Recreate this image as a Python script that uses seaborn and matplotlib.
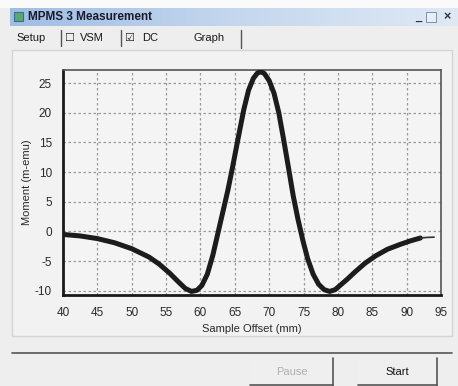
import numpy as np
import pandas as pd
import matplotlib
matplotlib.use("Agg")
import matplotlib.pyplot as plt
from matplotlib.patches import Rectangle
from matplotlib.colors import LinearSegmentedColormap
import seaborn as sns

# ---- data ----
offset_mm = [40.0, 42.5, 45.0, 47.5, 50.0, 52.5, 54.0, 55.5, 56.8, 57.8, 58.7,
             59.5, 60.2, 61.0, 61.8, 62.5, 63.2, 64.0, 64.7, 65.5, 66.3, 67.0,
             67.7, 68.3, 68.8, 69.3, 70.0, 70.7, 71.4, 72.1, 72.8, 73.5, 74.2,
             74.9, 75.6, 76.4, 77.2, 78.0, 78.8, 79.6, 80.4, 81.4, 82.6, 84.0,
             85.5, 87.2, 89.0, 90.5, 92.0]
moment_memu = [-0.5, -0.75, -1.2, -1.9, -2.9, -4.3, -5.5, -7.0, -8.5, -9.6, -10.1,
               -9.9, -9.1, -7.2, -4.0, -0.5, 3.0, 7.0, 11.0, 15.8, 20.5, 23.8,
               25.8, 26.7, 26.9, 26.6, 25.4, 23.3, 20.0, 15.5, 10.8, 6.0, 2.0,
               -1.5, -4.6, -7.2, -8.9, -9.8, -10.1, -9.8, -9.0, -8.0, -6.7, -5.3,
               -4.1, -3.0, -2.2, -1.6, -1.1]
tail_mm = [92.0, 93.0, 94.0]
tail_memu = [-1.1, -1.0, -0.95]

x_ticks = [40, 45, 50, 55, 60, 65, 70, 75, 80, 85, 90, 95]
y_ticks = [-10, -5, 0, 5, 10, 15, 20, 25]

window_title = "MPMS 3 Measurement"
x_label = "Sample Offset (mm)"
y_label = "Moment (m-emu)"

df = pd.DataFrame({"offset": offset_mm, "moment": moment_memu})
df_tail = pd.DataFrame({"offset": tail_mm, "moment": tail_memu})

sns.set_theme(style="white")
plt.rcParams["font.family"] = ["Liberation Sans", "DejaVu Sans"]

W, H = 458, 386
fig = plt.figure(figsize=(W / 100, H / 100), dpi=100)
fig.patch.set_facecolor("#eeeeee")

def px_rect(x0, y0, x1, y1, zorder=-5, **kw):
    r = Rectangle((x0 / W, 1 - y1 / H), (x1 - x0) / W, (y1 - y0) / H,
                  transform=fig.transFigure, zorder=zorder, **kw)
    fig.add_artist(r)
    return r

def px_text(x, y, s, **kw):
    return fig.text(x / W, 1 - y / H, s, **kw)

def px_line(x0, y0, x1, y1, **kw):
    fig.add_artist(plt.Line2D([x0 / W, x1 / W], [1 - y0 / H, 1 - y1 / H],
                              transform=fig.transFigure, **kw))

# top white strip
px_rect(0, 0, W, 8, facecolor="#fafafa", edgecolor="none")
# title bar gradient
grad = np.linspace(0, 1, 256).reshape(1, -1)
axg = fig.add_axes([10 / W, 1 - 26 / H, (W - 10) / W, 18 / H], zorder=-3)
cmap = LinearSegmentedColormap.from_list("tb", ["#9fbde3", "#c4d7ee", "#dfe9f5"])
axg.imshow(grad, aspect="auto", cmap=cmap, extent=[0, 1, 0, 1])
axg.set_axis_off()
px_rect(14, 12, 23, 21, zorder=5, facecolor="#5aa87a", edgecolor="#3c6e8c", linewidth=0.8)
px_text(28, 17.5, window_title, fontsize=8.5, fontweight="bold", color="#1a1a2a",
        va="center", ha="left")
# window buttons
px_text(418, 18, "_", fontsize=8, fontweight="bold", color="#222222", ha="center", va="center")
px_rect(426, 12, 436, 22, zorder=5, facecolor="#e6eef8", edgecolor="#8090a8", linewidth=0.7)
px_text(447, 17.5, "×", fontsize=9, fontweight="bold", color="#333333", ha="center", va="center")

# tab row
tab_kw = dict(fontsize=8, color="#1a1a1a", va="center", ha="left")
px_text(16, 38, "Setup", **tab_kw)
px_line(61, 30, 61, 46, color="#555555", linewidth=1)
px_text(64, 38, "☐", fontsize=8, color="#222222", va="center", ha="left",
        family=["DejaVu Sans"])
px_text(80, 38, "VSM", **tab_kw)
px_line(121, 30, 121, 46, color="#555555", linewidth=1)
px_text(124, 38, "☑", fontsize=8, color="#222222", va="center", ha="left",
        family=["DejaVu Sans"])
px_text(142, 38, "DC", **tab_kw)
px_text(193, 38, "Graph", **tab_kw)
px_line(241, 30, 241, 48, color="#555555", linewidth=1)

# graph panel (behind the axes)
px_rect(12, 50, 452, 336, zorder=-5, facecolor="#f2f2f2", edgecolor="#d4d4d4", linewidth=1)
px_line(12, 353, 452, 353, color="#555555", linewidth=1.2)

# buttons
for (x0, x1, label, col) in [(250, 333, "Pause", "#b0b0b0"), (358, 437, "Start", "#111111")]:
    px_rect(x0, 358, x1, 386, zorder=-5, facecolor="#efefef", edgecolor="none")
    px_line(x1, 358, x1, 386, color="#555555", linewidth=1.2)
    px_line(x0, 385, x1, 385, color="#555555", linewidth=1.2)
    px_text((x0 + x1) / 2, 372, label, fontsize=8, color=col, ha="center", va="center")

# ---- the plot ----
ax = fig.add_axes([63 / W, 1 - 295 / H, (441 - 63) / W, (295 - 70) / H], zorder=2)
ax.set_facecolor("#f4f4f4")
sns.lineplot(data=df, x="offset", y="moment", ax=ax, color="#1c1c1c",
             linewidth=3.6, sort=False, zorder=3)
sns.lineplot(data=df_tail, x="offset", y="moment", ax=ax, color="#333333",
             linewidth=1.2, sort=False, zorder=3)
ax.set_xlim(40, 95)
ax.set_ylim(-10.7, 27.2)
ax.set_xticks(x_ticks)
ax.set_yticks(y_ticks)
ax.set_xticklabels([str(t) for t in x_ticks])
ax.set_yticklabels([str(t) for t in y_ticks])
ax.grid(True, color="#9a9a9a", linestyle=(0, (2, 2)), linewidth=0.9)
ax.set_axisbelow(True)
ax.tick_params(axis="x", length=0, labelsize=8.5, colors="#2a2a2a", pad=9)
ax.tick_params(axis="y", length=0, labelsize=8.5, colors="#2a2a2a", pad=8)
ax.set_xlabel(x_label, fontsize=8, color="#2a2a2a", labelpad=3)
ax.set_ylabel(y_label, fontsize=8, color="#2a2a2a", labelpad=2)
for side in ["left", "bottom"]:
    ax.spines[side].set_color("#1a1a1a")
    ax.spines[side].set_linewidth(2.0)
for side in ["top", "right"]:
    ax.spines[side].set_color("#555555")
    ax.spines[side].set_linewidth(1.2)
    ax.spines[side].set_visible(True)

fig.savefig("out.png", dpi=100, facecolor=fig.get_facecolor())
